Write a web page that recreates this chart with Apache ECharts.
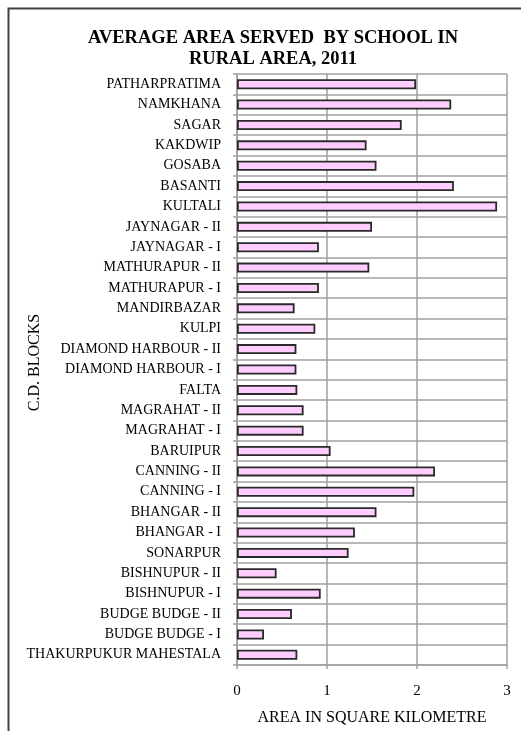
<!DOCTYPE html>
<html lang="en">
<head>
    <meta charset="UTF-8">
    <title>Average area served by school in rural area, 2011</title>
    <script src="https://cdn.jsdelivr.net/npm/echarts@6/dist/echarts.min.js"></script>
    <style>
        body{ margin:0; background:#fff; }
        #main{ width:521px; height:731px; }
    </style>
</head>
<body>
    <div id="main"></div>
    <script>
        // C.D. blocks, top to bottom as in the chart
        var blocks = [
            'PATHARPRATIMA', 'NAMKHANA', 'SAGAR', 'KAKDWIP', 'GOSABA', 'BASANTI', 'KULTALI',
            'JAYNAGAR - II', 'JAYNAGAR - I', 'MATHURAPUR - II', 'MATHURAPUR - I', 'MANDIRBAZAR',
            'KULPI', 'DIAMOND HARBOUR - II', 'DIAMOND HARBOUR - I', 'FALTA', 'MAGRAHAT - II',
            'MAGRAHAT - I', 'BARUIPUR', 'CANNING - II', 'CANNING - I', 'BHANGAR - II', 'BHANGAR - I',
            'SONARPUR', 'BISHNUPUR - II', 'BISHNUPUR - I', 'BUDGE BUDGE - II', 'BUDGE BUDGE - I',
            'THAKURPUKUR MAHESTALA'
        ];
        // area in sq km
        var area = [
            1.99, 2.38, 1.83, 1.44, 1.55, 2.41, 2.89,
            1.50, 0.91, 1.47, 0.91, 0.64,
            0.87, 0.66, 0.66, 0.67, 0.74,
            0.74, 1.04, 2.20, 1.97, 1.55, 1.31,
            1.24, 0.44, 0.93, 0.61, 0.30,
            0.67
        ];
        var xTicks = [0, 1, 2, 3];

        var serif = '"Liberation Serif", "DejaVu Serif", serif';
        var gridColor = '#a0a0a0';

        echarts.init(document.getElementById('main')).setOption({
            animation: false,
            title: {
                text: 'AVERAGE AREA SERVED  BY SCHOOL IN\nRURAL AREA, 2011',
                left: 268,
                top: 23,
                textAlign: 'center',
                textStyle: {
                    fontFamily: serif,
                    fontWeight: 'bold',
                    fontSize: 18.5,
                    lineHeight: 21,
                    color: '#000'
                }
            },
            graphic: [{   // chart frame
                type: 'rect',
                shape: { x: 8.5, y: 8.5, width: 700, height: 800 },
                style: { fill: 'none', stroke: '#404040', lineWidth: 2 },
                silent: true
            }],
            grid: {
                left: 237,
                right: 14,
                top: 74,
                bottom: 66,
                containLabel: false,
                outerBoundsMode: 'none'
            },
            xAxis: {
                type: 'value',
                min: xTicks[0],
                max: xTicks[xTicks.length - 1],
                interval: 1,
                name: 'AREA IN SQUARE KILOMETRE',
                nameLocation: 'middle',
                nameGap: 45,
                nameTextStyle: { fontFamily: serif, fontSize: 16, color: '#000' },
                axisLine: { show: true, lineStyle: { color: gridColor, width: 1.5 } },
                axisTick: { show: true, length: 4, lineStyle: { color: gridColor, width: 1.5 } },
                axisLabel: { fontFamily: serif, fontSize: 15, color: '#000', margin: 19 },
                splitLine: { show: true, lineStyle: { color: gridColor, width: 1.5 } }
            },
            yAxis: {
                type: 'category',
                data: blocks,
                inverse: true,
                name: 'C.D. BLOCKS',
                nameLocation: 'middle',
                nameRotate: 90,
                nameGap: 194,
                nameMoveOverlap: false,
                nameTextStyle: { fontFamily: serif, fontSize: 16, color: '#000', padding: [0, 0, 0, 14] },
                axisLine: { show: true, lineStyle: { color: gridColor, width: 1.5 } },
                axisTick: { show: true, length: 4, lineStyle: { color: gridColor, width: 1.5 } },
                axisLabel: { fontFamily: serif, fontSize: 14, color: '#000', margin: 16, interval: 0 },
                splitLine: { show: true, interval: 0, lineStyle: { color: gridColor, width: 1.5 } }
            },
            series: [{
                type: 'bar',
                data: area,
                barWidth: 10,
                itemStyle: {
                    color: '#ffccff',
                    borderColor: '#2a2a2a',
                    borderWidth: 1.8
                }
            }]
        });
    </script>
</body>
</html>
